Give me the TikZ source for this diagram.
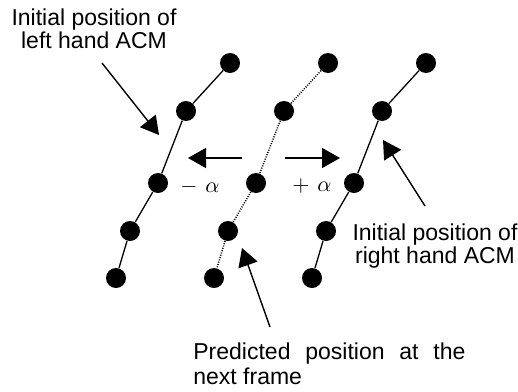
\documentclass[tikz,border=0pt]{standalone}
\usepackage{fontspec}
\setmainfont{Liberation Sans}
\usetikzlibrary{arrows.meta}

\begin{document}
\begin{tikzpicture}[
    x=0.5pt, y=-0.5pt,
    >={Triangle[length=9pt, width=10pt]},
    dot/.style={circle, fill=black, inner sep=0pt, minimum size=10pt},
    acmline/.style={line width=0.65pt},
    predline/.style={line width=0.75pt, dash pattern=on 0.5pt off 0.7pt},
    pointer/.style={->, line width=0.7pt},
    caption/.style={font=\fontsize{11.5}{11.5}\selectfont, inner sep=0pt, align=center},
    shiftlabel/.style={font=\fontsize{11}{13}\selectfont, inner sep=0pt},
]
\useasboundingbox (0,0) rectangle (518,391);

% Left ACM, predicted ACM and right ACM (same shape, shifted)
\foreach \chain/\dx in {l/0, m/98, r/196} {
    \foreach \i/\x/\y in {1/230/63, 2/186/111, 3/158/183, 4/130/231, 5/116/278} {
        \node[dot] (\chain\i) at ({\x+\dx}, \y) {};
    }
}

% Contour segments
\foreach \a/\b in {1/2, 2/3, 3/4, 4/5} {
    \draw[acmline] (l\a) -- (l\b);
    \draw[acmline] (r\a) -- (r\b);
    \draw[predline] (m\a) -- (m\b);
}

% Shift arrows
\coordinate (sl0) at (242,158);
\coordinate (sl1) at (188,158);
\coordinate (sr0) at (285,158);
\coordinate (sr1) at (340,158);
\draw[pointer] (sl0) -- (sl1);
\draw[pointer] (sr0) -- (sr1);
\node[shiftlabel] (minus) at (200,187) {$-\hspace{4pt}\alpha$};
\node[shiftlabel] (plus) at (312,186) {$+\hspace{4pt}\alpha$};

% Captions
\node[caption, anchor=north] (leftcap) at (94,8) {Initial position of\\left hand ACM};
\node[caption, anchor=north] (rightcap) at (435,223) {Initial position of\\right hand ACM};
\node[caption, anchor=north west, align=left, font=\fontsize{11.5}{12.5}\selectfont] (predcap) at (193,342)
    {\makebox[136pt][s]{Predicted position at the}\\next frame};

% Pointers from captions
\coordinate (lctail) at (102,63);
\coordinate (lchead) at (159,135);
\coordinate (rctail) at (425,206);
\coordinate (rchead) at (383,140);
\coordinate (pctail) at (270,327);
\coordinate (pchead) at (242,248);
\foreach \a/\b in {lctail/lchead, rctail/rchead, pctail/pchead} {
    \draw[pointer] (\a) -- (\b);
}

\end{tikzpicture}
\end{document}
